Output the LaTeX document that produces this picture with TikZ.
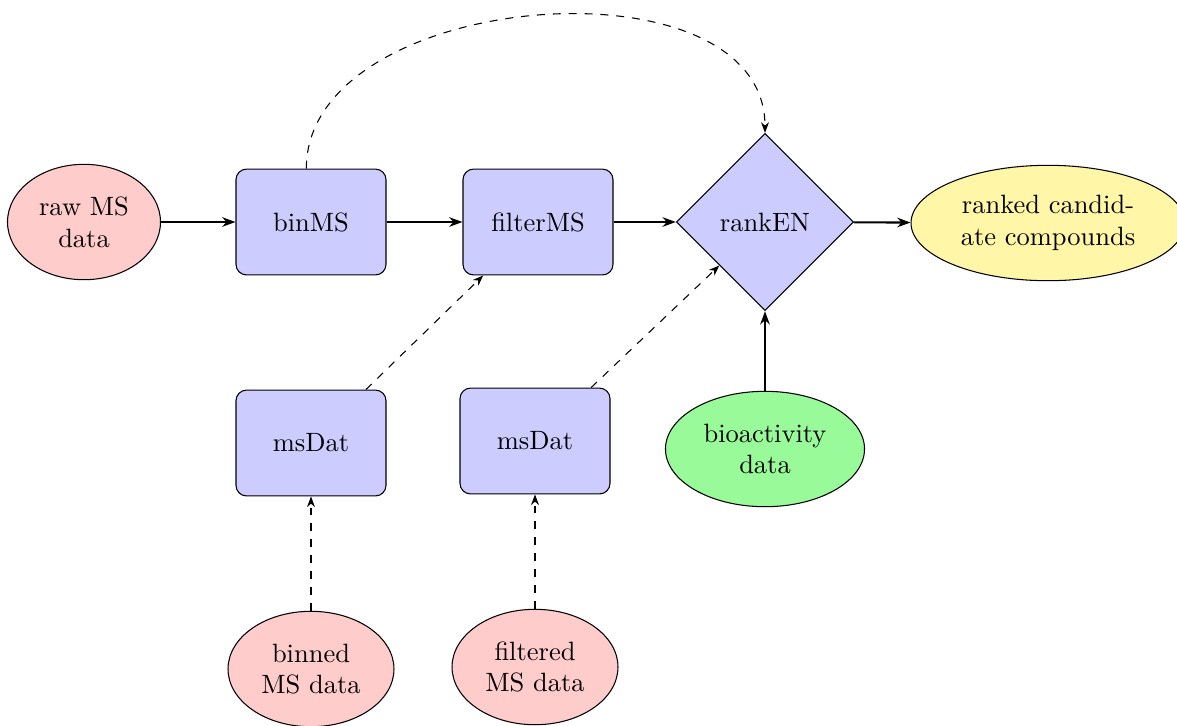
\documentclass[tikz,border=0pt]{standalone}
\usetikzlibrary{shapes.geometric,arrows.meta}
\definecolor{paleyellow}{RGB}{255,246,168}
\definecolor{palegreen}{RGB}{153,250,153}
\begin{document}
\begin{tikzpicture}[x=0.37779pt,y=-0.37779pt,
  blockbox/.style={draw, rectangle, rounded corners=4pt, fill=blue!20, minimum width=56.67pt, minimum height=40pt, inner sep=0pt, align=center},
  decide/.style={draw, diamond, aspect=1, fill=blue!20, minimum width=67pt, minimum height=67pt, inner sep=0pt},
  cloudnode/.style={draw, ellipse, inner sep=0pt, align=center, minimum height=43.6pt},
  flow/.style={thick, -{Stealth[length=5pt,width=3.6pt]}},
  dflow/.style={dashed, -{Stealth[length=4pt,width=3pt]}}
]
\useasboundingbox (0,0) rectangle (1177,725);
\node[cloudnode, fill=red!20, minimum width=57.8pt] (raw) at (84,222) {raw MS\\data};
\node[blockbox] (binMS) at (311,222) {binMS};
\node[blockbox] (filterMS) at (538,222) {filterMS};
\node[decide] (rankEN) at (765,222) {rankEN};
\node[cloudnode, fill=paleyellow, minimum width=103.5pt] (ranked) at (1048,223) {ranked candid-\\ate compounds};
\node[blockbox] (msA) at (311,443) {msDat};
\node[blockbox] (msB) at (535,441) {msDat};
\node[cloudnode, fill=palegreen, minimum width=75.2pt] (bio) at (765,449) {bioactivity\\data};
\node[cloudnode, fill=red!20, minimum width=62.7pt] (binned) at (311,669) {binned\\MS data};
\node[cloudnode, fill=red!20, minimum width=62.7pt] (filtered) at (535,667) {filtered\\MS data};

\draw[flow] (raw) -- (binMS);
\draw[flow] (binMS) -- (filterMS);
\draw[flow] (filterMS) -- (rankEN);
\draw[flow] (rankEN) -- (ranked);
\draw[flow] (bio) -- (rankEN);
\draw[dflow] (binned) -- (msA);
\draw[dflow] (filtered) -- (msB);
\draw[dflow] (msA) -- (filterMS);
\draw[dflow] (msB) -- (rankEN);
\draw[dflow] (binMS.95) to[out=90,in=90] (rankEN.north);
\end{tikzpicture}
\end{document}
